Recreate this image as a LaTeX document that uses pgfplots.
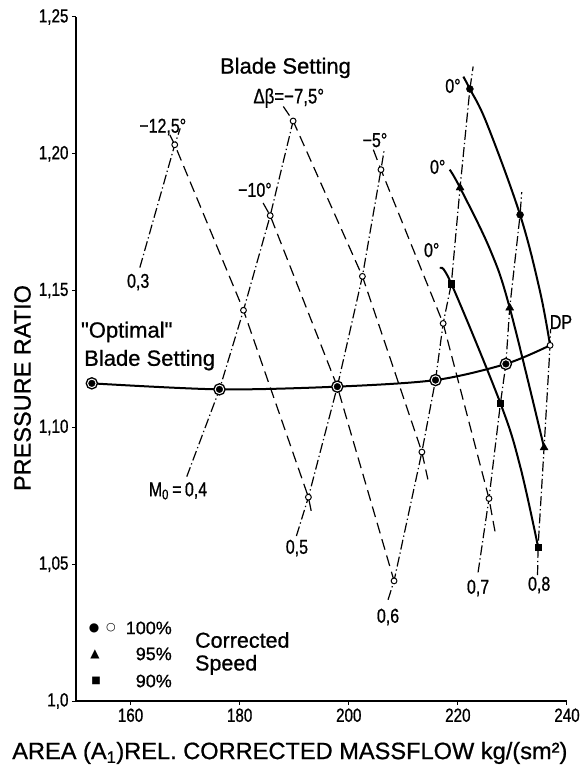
\documentclass[border=0pt]{standalone}
\usepackage{fontspec}
\setmainfont{Liberation Sans}[FakeStretch=0.8, FakeBold=0.8]
\newfontfamily\widefont{Liberation Sans}[FakeBold=0.8]
\newfontfamily\symfont{DejaVu Sans}
\usepackage{pgfplots}
\pgfplotsset{compat=1.18}

\tikzset{
  numlab/.style={font=\fontsize{20}{24}\selectfont, inner sep=0pt},
  wordlab/.style={font=\widefont\fontsize{22}{26}\selectfont, inner sep=0pt},
  pctlab/.style={font=\widefont\fontsize{18}{22}\selectfont, inner sep=0pt},
}
\pgfplotsset{
  blade/.style={mark=none, black, line width=1.2pt, dash pattern=on 11pt off 6pt},
  mach/.style={mark=none, black, line width=1.2pt, dash pattern=on 10pt off 3pt on 1.3pt off 3pt},
  speed/.style={mark=none, black, line width=2pt, smooth, tension=0.6},
}

\begin{document}
\begin{tikzpicture}[x=1pt,y=1pt]
\begin{axis}[
  at={(0,0)}, anchor=south west,
  width=491pt, height=684pt, scale only axis,
  xmin=150, xmax=240, ymin=1.0, ymax=1.25,
  axis x line=bottom, axis y line=left,
  axis line style={-, line width=1.5pt},
  xtick={160,180,200,220,240},
  xticklabels={160,180,200,220,240},
  ytick={1.0,1.05,1.10,1.15,1.20,1.25},
  yticklabels={{1,0},{1,05},{1,10},{1,15},{1,20},{1,25}},
  tick align=outside,
  major tick length=4pt,
  tick style={black, line width=1pt},
  yticklabel style={font=\fontsize{19}{22}\selectfont},
  xticklabel style={font=\fontsize{19}{22}\selectfont},
  clip=false,
]

% constant blade-setting lines (dashed)
\addplot[blade] coordinates {(167.2,1.2069) (168.1,1.2033) (180.7,1.1428) (192.6,1.0745) (193.3,1.0676)};
\addplot[blade] coordinates {(184.3,1.1820) (185.6,1.1774) (197.9,1.1149) (208.3,1.0439)};
\addplot[blade] coordinates {(188.0,1.2173) (189.8,1.2120) (202.5,1.1552) (213.4,1.0910) (214.5,1.0810)};
\addplot[blade] coordinates {(204.5,1.2015) (205.9,1.1942) (217.3,1.1380) (225.7,1.0740) (226.8,1.0620)};

% constant flight Mach number lines (dash-dot)
\addplot[mach] coordinates {(161.7,1.1584) (168.1,1.2033) (169.1,1.2093)};
\addplot[mach] coordinates {(170.3,1.0820) (176.3,1.1139) (180.7,1.1428) (185.6,1.1774) (189.8,1.2120)};
\addplot[mach] coordinates {(190.4,1.0603) (192.6,1.0745) (197.9,1.1149) (202.5,1.1552) (205.9,1.1942) (206.5,1.2015)};
\addplot[mach] coordinates {(207.2,1.0370) (208.3,1.0439) (213.4,1.0910) (215.9,1.1173) (217.3,1.1380) (218.8,1.1525) (220.4,1.1876) (222.2,1.2237) (222.8,1.2319)};
\addplot[mach] coordinates {(223.7,1.0470) (225.7,1.0740) (227.8,1.1088) (228.8,1.1232) (229.5,1.1437) (231.4,1.1777) (231.7,1.1860)};
\addplot[mach] coordinates {(234.6,1.0460) (234.7,1.0563) (235.8,1.0926) (236.9,1.1300) (237.0,1.1360)};

% 0 deg blade setting at 100, 95 and 90 % corrected speed
\addplot[speed] coordinates {(221.0,1.2282) (222.2,1.2237) (225.3,1.2111) (231.4,1.1777) (235.0,1.1502) (236.9,1.1300)};
\addplot[speed] coordinates {(218.5,1.1942) (220.4,1.1876) (225.9,1.1650) (229.5,1.1437) (235.8,1.0926)};
\addplot[speed] coordinates {(216.8,1.1580) (218.8,1.1525) (227.8,1.1088) (231.4,1.0859) (234.7,1.0563)};

% optimal blade setting
\addplot[speed, tension=0.5] coordinates {(152.9,1.1161) (176.3,1.1139) (197.9,1.1149) (215.9,1.1173) (228.8,1.1232) (236.9,1.1300)};

% measured points
\addplot[only marks, mark=*, mark size=2.9pt, mark options={fill=white, draw=black, line width=1pt}]
  coordinates {(168.1,1.2033) (180.7,1.1428) (185.6,1.1774) (189.8,1.2120) (192.6,1.0745) (202.5,1.1552) (205.9,1.1942) (208.3,1.0439) (213.4,1.0910) (217.3,1.1380) (225.7,1.0740) (236.9,1.1300)};
\addplot[only marks, mark=*, mark size=3.5pt, black]
  coordinates {(222.2,1.2237) (231.4,1.1777)};
\addplot[only marks, mark=triangle*, mark size=4.6pt, black]
  coordinates {(220.4,1.1876) (229.5,1.1437) (235.8,1.0926)};
\addplot[only marks, mark=square*, mark size=3.1pt, black]
  coordinates {(218.8,1.1525) (227.8,1.1088) (234.7,1.0563)};
\addplot[only marks, mark=*, mark size=5.6pt, mark options={fill=white, draw=black, line width=1.3pt}]
  coordinates {(152.9,1.1161) (176.3,1.1139) (197.9,1.1149) (215.9,1.1173) (228.8,1.1232)};
\addplot[only marks, mark=*, mark size=3.3pt, black]
  coordinates {(152.9,1.1161) (176.3,1.1139) (197.9,1.1149) (215.9,1.1173) (228.8,1.1232)};

% annotations
\node[wordlab] at (axis cs:188.4,1.2314) {Blade Setting};
\node[numlab, font=\fontsize{21}{24}\selectfont] at (axis cs:189.0,1.2204) {Δβ=−7,5°};
\node[numlab] at (axis cs:165.9,1.2098) {−12,5°};
\node[numlab] at (axis cs:182.8,1.1868) {−10°};
\node[numlab] at (axis cs:204.8,1.2050) {−5°};
\node[numlab] at (axis cs:219.1,1.2248) {0°};
\node[numlab] at (axis cs:216.3,1.1952) {0°};
\node[numlab] at (axis cs:215.2,1.1648) {0°};
\node[numlab] at (axis cs:238.9,1.1385) {DP};
\node[numlab] at (axis cs:161.4,1.1531) {0,3};
\node[wordlab] at (axis cs:159.3,1.1349) {"Optimal"};
\node[wordlab] at (axis cs:163.5,1.1246) {Blade Setting};
\node[numlab] at (axis cs:168.7,1.0768) {M\textsubscript{0}\,=\,0,4};
\node[numlab] at (axis cs:190.5,1.0559) {0,5};
\node[numlab] at (axis cs:207.2,1.0307) {0,6};
\node[numlab] at (axis cs:223.7,1.0413) {0,7};
\node[numlab] at (axis cs:234.9,1.0424) {0,8};

% speed key
\node[font=\symfont\fontsize{12}{14}\selectfont, inner sep=0pt] at (axis cs:153.3,1.0267) {●};
\node[font=\symfont\fontsize{11}{14}\selectfont, inner sep=0pt] at (axis cs:156.4,1.0267) {○};
\node[font=\symfont\fontsize{12}{14}\selectfont, inner sep=0pt] at (axis cs:153.5,1.0172) {▲};
\node[font=\symfont\fontsize{10}{14}\selectfont, inner sep=0pt] at (axis cs:153.7,1.0073) {■};
\node[pctlab, anchor=east] at (axis cs:167.6,1.0267) {100\%};
\node[pctlab, anchor=east] at (axis cs:167.6,1.0172) {95\%};
\node[pctlab, anchor=east] at (axis cs:167.6,1.0073) {90\%};
\node[wordlab, font=\widefont\fontsize{21.5}{26}\selectfont, anchor=west] at (axis cs:171.8,1.0223) {Corrected};
\node[wordlab, font=\widefont\fontsize{21.5}{26}\selectfont, anchor=west] at (axis cs:171.8,1.0132) {Speed};

% axis titles
\node[rotate=90, font=\widefont\fontsize{23.5}{28}\selectfont, inner sep=0pt] at (axis cs:140.2,1.1144) {PRESSURE RATIO};
\node[font=\widefont\fontsize{23.6}{28}\selectfont, inner sep=0pt] at (axis cs:189.2,0.9810) {AREA (A\textsubscript{1})REL. CORRECTED MASSFLOW kg/(sm²)};
\end{axis}
\pgfresetboundingbox
\path[use as bounding box] (-76pt,-73pt) rectangle (503pt,701pt);
\end{tikzpicture}
\end{document}
